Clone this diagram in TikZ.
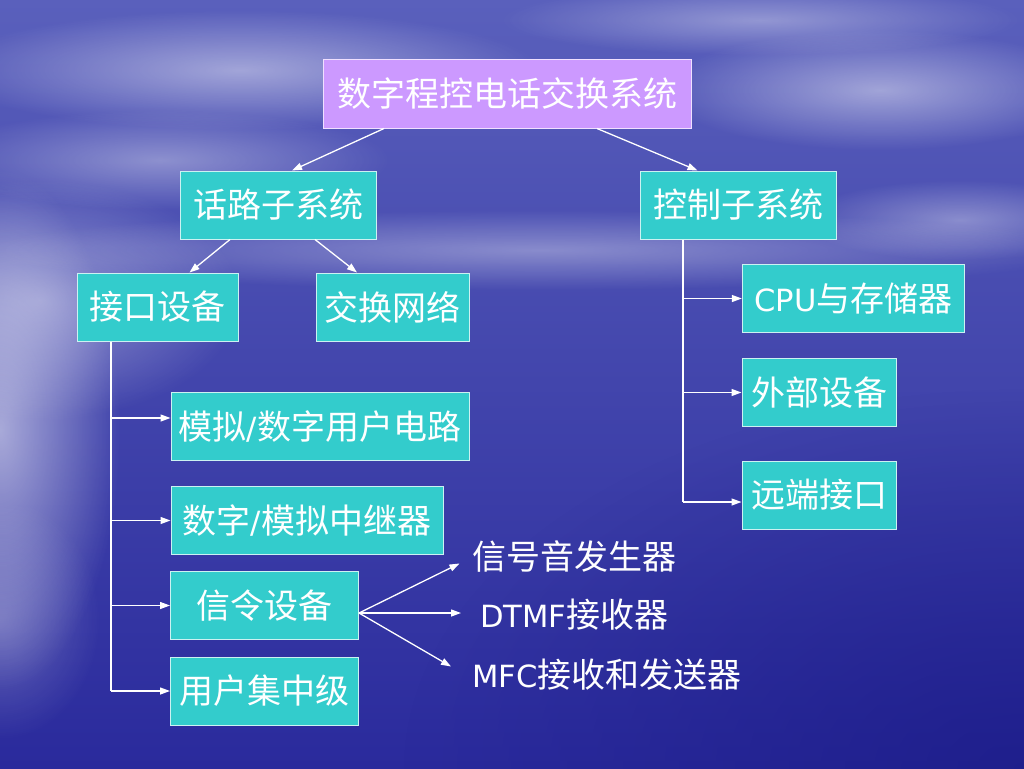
\documentclass[tikz,border=0pt]{standalone}
\usepackage{fontspec}
\setmainfont{Noto Sans CJK SC}
\newfontfamily\lat[Scale=0.9]{DejaVu Sans}
\usetikzlibrary{arrows.meta,fadings}
\definecolor{tealbox}{HTML}{33CCCC}
\definecolor{lavbox}{HTML}{CC99FF}
\definecolor{bgtop}{HTML}{5A60BC}
\definecolor{bgmid}{HTML}{3E42B0}
\definecolor{bgbot}{HTML}{2A2A9C}
\definecolor{bgdark}{HTML}{1A1A86}
\tikzfading[name=softfade, inner color=transparent!0, outer color=transparent!100]
\begin{document}
\begin{tikzpicture}[x=1pt,y=-1pt,
  box/.style={draw=white!75!tealbox, line width=1pt, fill=tealbox, text=white,
    inner sep=0pt, minimum height=68, font=\fontsize{34}{38}\selectfont},
  lbl/.style={text=white, inner sep=0pt, font=\fontsize{34}{38}\selectfont},
  conn/.style={draw=white, line width=1.3pt, -{Triangle[length=10pt,width=7pt]}},
  wire/.style={draw=white, line width=1.3pt},
  cloud/.style={fill=white, path fading=softfade}]
% background
\path[use as bounding box] (0,0) rectangle (1024,768);
\shade[top color=bgtop, middle color=bgmid, bottom color=bgbot] (0,0) rectangle (1024,768);
\fill[bgdark, opacity=0.7, path fading=softfade] (1024,768) ellipse (620 and 380);
\fill[cloud, opacity=0.55] (0,430) ellipse (120 and 260);
\fill[cloud, opacity=0.40] (40,300) ellipse (200 and 120);
\fill[cloud, opacity=0.45] (240,70) ellipse (300 and 60);
\fill[cloud, opacity=0.35] (160,160) ellipse (230 and 50);
\fill[cloud, opacity=0.45] (880,90) ellipse (220 and 60);
\fill[cloud, opacity=0.35] (760,20) ellipse (260 and 35);
\fill[cloud, opacity=0.35] (960,220) ellipse (160 and 40);
\fill[cloud, opacity=0.35] (540,250) ellipse (560 and 40);
\fill[cloud, opacity=0.25] (0,620) ellipse (100 and 120);
% nodes
\node[box, fill=lavbox, draw=white!70!lavbox, minimum width=368, minimum height=69] (top) at (507.5,93.5) {数字程控电话交换系统};
\node[box, minimum width=196] (hl) at (278,205) {话路子系统};
\node[box, minimum width=196] (kz) at (738.5,205) {控制子系统};
\node[box, minimum width=161] (jk) at (157.5,307) {接口设备};
\node[box, minimum width=153] (jh) at (392.5,307) {交换网络};
\node[box, minimum width=222] (cpu) at (853.3,298.5) {{\lat CPU}与存储器};
\node[box, minimum width=154] (wb) at (819,392.5) {外部设备};
\node[box, minimum width=154] (yd) at (819,495) {远端接口};
\node[box, minimum width=298] (mn) at (320,426.7) {模拟{\lat /}数字用户电路};
\node[box, minimum width=272] (sz) at (307,520.5) {数字{\lat /}模拟中继器};
\node[box, minimum width=188] (xl) at (264.5,605.5) {信令设备};
\node[box, minimum width=188] (yh) at (264.5,691) {用户集中级};
\node[lbl, anchor=west] (t1) at (472,556) {信号音发生器};
\node[lbl, anchor=west] (t2) at (480,615) {{\lat DTMF}接收器};
\node[lbl, anchor=west] (t3) at (472,675) {{\lat MFC}接收和发送器};
% tree connectors
\draw[conn] (384,0 |- top.south) -- (292,0 |- hl.north);
\draw[conn] (597,0 |- top.south) -- (697.5,0 |- kz.north);
\draw[conn] (230,0 |- hl.south) -- (189.5,0 |- jk.north);
\draw[conn] (315,0 |- hl.south) -- (357,0 |- jh.north);
% left bus
\coordinate (jkb) at (111,0 |- jk.south);
\coordinate (jke) at (111,0 |- yh.west);
\draw[wire] (jkb) -- (jke);
\draw[conn] (111,418) -- (mn.west |- 0,418);
\draw[conn] (111,0 |- sz.west) -- (sz.west);
\draw[conn] (111,0 |- xl.west) -- (xl.west);
\draw[conn] (jke) -- (yh.west);
% right bus
\coordinate (kzb) at (683,0 |- kz.south);
\coordinate (kze) at (683,502);
\draw[wire] (kzb) -- (kze);
\draw[conn] (683,0 |- cpu.west) -- (cpu.west);
\draw[conn] (683,0 |- wb.west) -- (wb.west);
\draw[conn] (kze) -- (yd.west |- kze);
% fan from signalling
\coordinate (f0) at (xl.east |- 0,613);
\coordinate (f1) at (459.5,563.5);
\coordinate (f2) at (461,613);
\coordinate (f3) at (451,666.5);
\draw[conn] (f0) -- (f1);
\draw[conn] (f0) -- (f2);
\draw[conn] (f0) -- (f3);
\end{tikzpicture}
\end{document}
